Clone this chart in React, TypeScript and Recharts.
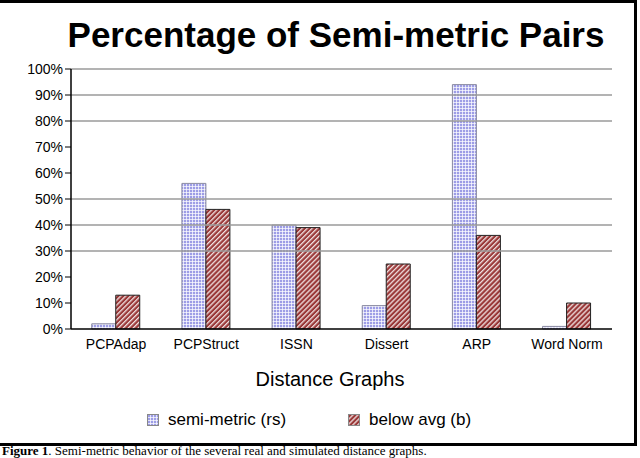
import React from "react";
import {
  Bar,
  BarChart,
  ReferenceLine,
  XAxis,
  YAxis,
} from "recharts";

const categories = ["PCPAdap", "PCPStruct", "ISSN", "Dissert", "ARP", "Word Norm"];
const semiMetric = [2, 56, 40, 9, 94, 1];
const belowAvg = [13, 46, 39, 25, 36, 10];
const yTicks = [0, 10, 20, 30, 40, 50, 60, 70, 80, 90, 100];
const minorTicks = [5, 15, 25, 35, 45, 55, 65, 75, 85, 95];
const gridLines = [30, 40, 50, 80, 90, 100];
const seriesNames = ["semi-metric (rs)", "below avg (b)"];

const data = categories.map((name, i) => ({
  name,
  semi: semiMetric[i],
  below: belowAvg[i],
}));

const font = "'Liberation Sans', Arial, sans-serif";

function Patterns() {
  return (
    <defs>
      <pattern id="checks" width="3" height="3" patternUnits="userSpaceOnUse">
        <rect width="3" height="3" fill="#9d9de6" />
        <rect x="0" y="0" width="3" height="1" fill="#ffffff" opacity="0.7" />
        <rect x="0" y="0" width="1" height="3" fill="#ffffff" opacity="0.7" />
      </pattern>
      <pattern
        id="stripes"
        width="3.5"
        height="3.5"
        patternUnits="userSpaceOnUse"
        patternTransform="rotate(45)"
      >
        <rect width="3.5" height="3.5" fill="#9a3838" />
        <rect x="0" y="0" width="1.3" height="3.5" fill="#ffffff" opacity="0.85" />
      </pattern>
    </defs>
  );
}

function LegendIcon({ fill }: { fill: string }) {
  return (
    <svg width="12" height="12" style={{ marginRight: 9 }}>
      <Patterns />
      <rect x="0.5" y="0.5" width="11" height="11" fill={fill} stroke="#888" />
    </svg>
  );
}

export default function App() {
  return (
    <div
      style={{
        position: "absolute",
        left: 0,
        top: 0,
        width: 640,
        height: 458,
        background: "#fff",
        overflow: "hidden",
      }}
    >
      <div
        style={{
          position: "absolute",
          left: -4,
          top: 0,
          width: 638,
          height: 440,
          borderTop: "3px solid #000",
          borderRight: "3px solid #000",
          borderBottom: "3px solid #000",
        }}
      />
      <div
        style={{
          position: "absolute",
          left: 32,
          width: 608,
          top: 15,
          textAlign: "center",
          fontFamily: font,
          fontWeight: "bold",
          fontSize: 35,
          lineHeight: "40px",
        }}
      >
        Percentage of Semi-metric Pairs
      </div>
      <div style={{ position: "absolute", left: 0, top: 0 }}>
        <BarChart
          width={640}
          height={440}
          data={data}
          margin={{ top: 69, right: 28, left: 0, bottom: 0 }}
          barCategoryGap="23%"
          barGap={0}
        >
          <Patterns />
          <XAxis
            dataKey="name"
            height={111}
            tickLine={false}
            axisLine={{ stroke: "#000", strokeWidth: 1.5 }}
            tickMargin={4}
            interval={0}
            tick={{ fill: "#000", fontSize: 14, fontFamily: font }}
          />
          <YAxis
            width={71}
            domain={[0, 100]}
            ticks={yTicks}
            interval={0}
            tickFormatter={(v) => `${v}%`}
            tickSize={6}
            tickMargin={2}
            axisLine={{ stroke: "#000", strokeWidth: 1.5 }}
            tickLine={{ stroke: "#000" }}
            tick={{ fill: "#000", fontSize: 14, fontFamily: font }}
          />
          <YAxis
            yAxisId="minor"
            width={0}
            mirror
            domain={[0, 100]}
            ticks={minorTicks}
            interval={0}
            tickSize={5}
            axisLine={false}
            tickLine={{ stroke: "#000" }}
            tick={false}
          />
          <YAxis
            yAxisId="right"
            orientation="right"
            width={0}
            domain={[0, 100]}
            tick={false}
            tickLine={false}
            axisLine={{ stroke: "#333" }}
          />
          {gridLines.map((v) => (
            <ReferenceLine key={v} y={v} stroke="#9a9a9a" strokeWidth={1.5} />
          ))}
          <Bar
            dataKey="semi"
            name={seriesNames[0]}
            fill="url(#checks)"
            stroke="#8a8aa0"
            strokeWidth={1}
            isAnimationActive={false}
          />
          <Bar
            dataKey="below"
            name={seriesNames[1]}
            fill="url(#stripes)"
            stroke="#222"
            strokeWidth={1}
            isAnimationActive={false}
          />
        </BarChart>
      </div>
      <div
        style={{
          position: "absolute",
          left: 230,
          width: 200,
          top: 368,
          textAlign: "center",
          fontFamily: font,
          fontSize: 20,
        }}
      >
        Distance Graphs
      </div>
      <div
        style={{
          position: "absolute",
          top: 410,
          left: 147,
          display: "flex",
          alignItems: "center",
          fontFamily: font,
          fontSize: 17,
        }}
      >
        <LegendIcon fill="url(#checks)" />
        <span>{seriesNames[0]}</span>
        <span style={{ width: 62 }} />
        <LegendIcon fill="url(#stripes)" />
        <span>{seriesNames[1]}</span>
      </div>
      <div
        style={{
          position: "absolute",
          left: 2,
          top: 444,
          whiteSpace: "nowrap",
          fontFamily: "'Liberation Serif', 'Times New Roman', serif",
          fontSize: 13,
          lineHeight: "14px",
        }}
      >
        <b>Figure 1</b>. Semi-metric behavior of the several real and simulated distance graphs.
      </div>
    </div>
  );
}
